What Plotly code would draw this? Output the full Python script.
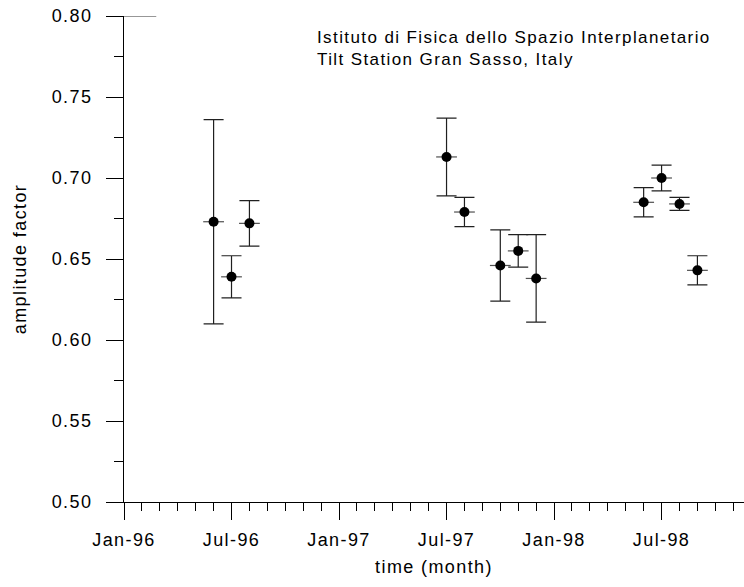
import plotly.graph_objects as go

# x positions are months counted from Jan-96 (0 = Jan-96)
tick_months = [0, 6, 12, 18, 24, 30]
tick_labels = ["Jan-96", "Jul-96", "Jan-97", "Jul-97", "Jan-98", "Jul-98"]

months = [5, 6, 7, 18, 19, 21, 22, 23, 29, 30, 31, 32]
amplitude = [0.673, 0.639, 0.672, 0.713, 0.679, 0.646, 0.655, 0.638, 0.685, 0.700, 0.684, 0.643]
upper = [0.736, 0.652, 0.686, 0.737, 0.688, 0.668, 0.665, 0.665, 0.694, 0.708, 0.688, 0.652]
lower = [0.610, 0.626, 0.658, 0.689, 0.670, 0.624, 0.645, 0.611, 0.676, 0.692, 0.680, 0.634]
month_halfwidth = [0.58] * len(months)

err_plus = [u - a for u, a in zip(upper, amplitude)]
err_minus = [a - l for a, l in zip(amplitude, lower)]

FONT = "Liberation Sans, Arial, sans-serif"

fig = go.Figure()
fig.add_trace(go.Scatter(
    x=months, y=amplitude, mode="markers",
    marker=dict(color="black", size=10, symbol="circle"),
    error_y=dict(type="data", symmetric=False, array=err_plus, arrayminus=err_minus,
                 color="#202020", thickness=1.2, width=10),
    error_x=dict(type="data", array=month_halfwidth, color="#505050", thickness=1.2, width=0),
    showlegend=False,
))

# short line at top of y axis as in original
fig.add_shape(type="line", xref="x", yref="y", x0=0, x1=1.8, y0=0.80, y1=0.80,
              line=dict(color="#303030", width=1.2))

fig.update_layout(
    width=744, height=587,
    margin=dict(l=124, r=0, t=16, b=85, autoexpand=False),
    paper_bgcolor="white", plot_bgcolor="white",
    font=dict(family=FONT, size=18, color="black"),
    xaxis=dict(
        range=[0, 34.6], showgrid=False, zeroline=False, automargin=False,
        showline=True, linecolor="black", linewidth=1.2,
        tickmode="array", tickvals=tick_months, ticktext=tick_labels,
        ticks="outside", ticklen=17, tickcolor="black", tickwidth=1.2,
        ticklabelstandoff=4,
        minor=dict(ticks="outside", ticklen=8, tickmode="linear", tick0=0, dtick=1,
                   tickcolor="black", tickwidth=1.2, showgrid=False),
        tickfont=dict(family=FONT, size=18),
        title=dict(text="time (month)", font=dict(family=FONT, size=18), standoff=11),
    ),
    yaxis=dict(
        range=[0.5, 0.8], showgrid=False, zeroline=False, automargin=False,
        showline=True, linecolor="black", linewidth=1.2,
        tickmode="linear", tick0=0.5, dtick=0.05, tickformat=".2f",
        ticks="outside", ticklen=17, tickcolor="black", tickwidth=1.2,
        ticklabelstandoff=10,
        minor=dict(ticks="outside", ticklen=9, tickmode="linear", tick0=0.5, dtick=0.025,
                   tickcolor="black", tickwidth=1.2, showgrid=False),
        tickfont=dict(family=FONT, size=18),
        title=dict(text="amplitude factor", font=dict(family=FONT, size=18), standoff=25),
    ),
    annotations=[dict(
        text="Istituto di Fisica dello Spazio Interplanetario<br>Tilt Station Gran Sasso, Italy",
        xref="paper", yref="paper", x=0.308, y=0.979, xanchor="left", yanchor="top",
        align="left", showarrow=False, font=dict(family=FONT, size=17, color="black"),
    )],
)

post = ("var s=document.createElement('style');"
        "s.textContent='body{margin:0;padding:0;} .main-svg text{letter-spacing:1.4px;}';"
        "document.head.appendChild(s);")
fig.write_html("out.html", post_script=post, config={"displayModeBar": False})
